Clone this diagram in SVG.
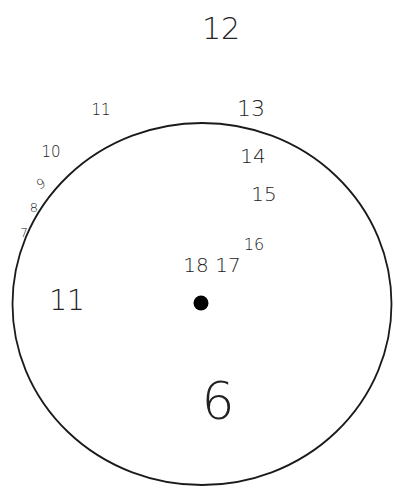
<svg xmlns="http://www.w3.org/2000/svg" width="394" height="490" viewBox="0 0 394 490">
<style>
.n{font-family:"DejaVu Sans","Liberation Sans",sans-serif;font-weight:300;fill:#222;text-anchor:middle}
</style>
<rect width="394" height="490" fill="#fff"/>
<g id="dial">
<ellipse cx="202" cy="304" rx="189.5" ry="181" fill="none" stroke="#1a1a1a" stroke-width="1.8"/>
<circle cx="201" cy="303" r="7.5" fill="#000"/>
</g>
<g id="labels">
<text class="n" x="221" y="39" font-size="30">12</text>
<text class="n" x="101" y="115" font-size="15">11</text>
<text class="n" x="251" y="116" font-size="22">13</text>
<text class="n" x="51" y="157" font-size="15">10</text>
<text class="n" x="253" y="163" font-size="20">14</text>
<text class="n" x="264" y="201" font-size="20">15</text>
<text class="n" x="254" y="250" font-size="16">16</text>
<text class="n" x="212" y="272" font-size="20">18 17</text>
<text class="n" x="67" y="310" font-size="28">11</text>
<text class="n" x="218" y="419" font-size="52">6</text>
<text class="n" x="41" y="188" font-size="13" transform="rotate(-25 41 184)">9</text>
<text class="n" x="34" y="212" font-size="13">8</text>
<text class="n" x="24" y="237" font-size="12">7</text>
</g>
</svg>
